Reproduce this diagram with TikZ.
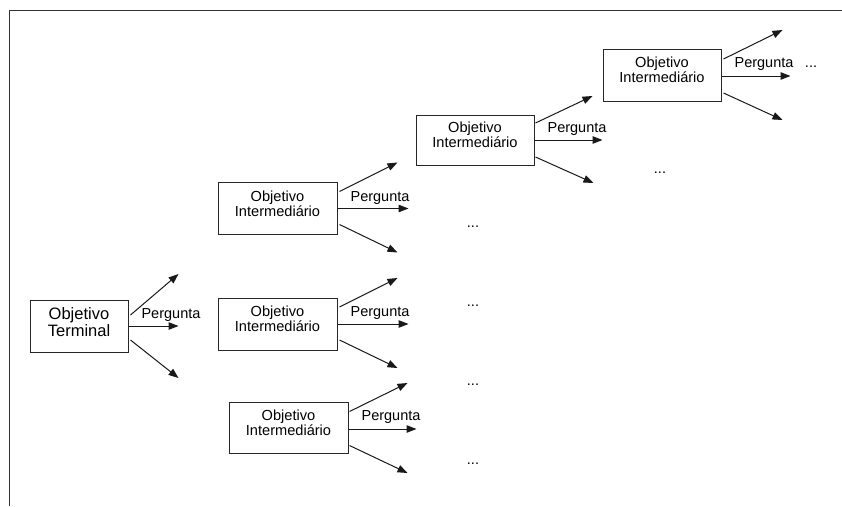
\documentclass[tikz,border=0pt]{standalone}
\usepackage{fontspec}
\setmainfont{Liberation Sans}
\usetikzlibrary{arrows.meta,calc}
\begin{document}
\begin{tikzpicture}[x=1pt,y=-1pt,
 box/.style={draw=black!85,line width=1pt,inner sep=0pt,minimum width=119pt,minimum height=52pt},
 lbl/.style={inner sep=0pt,align=center,font=\fontsize{14.6}{15}\selectfont},
 tlbl/.style={inner sep=0pt,align=center,font=\fontsize{16.5}{17}\selectfont},
 qlbl/.style={inner sep=0pt,anchor=base,font=\fontsize{14.5}{15}\selectfont},
 arr/.style={-{Triangle[length=10pt,width=7.5pt]},line width=1pt,draw=black!90},
 frameline/.style={line width=1.2pt,draw=black!80}]
\useasboundingbox (0,0) rectangle (842,506);
\coordinate (fa) at (842,10.5);
\coordinate (fb) at (9.5,10.5);
\coordinate (fc) at (9.5,506);
\draw[frameline] (fa) -- (fb) -- (fc);

\node[box,minimum width=98pt] (t) at (79,326) {};
\node[tlbl] (tt) at (79,322) {Objetivo\\Terminal};
\node[box] (b1) at (277.5,208.5) {};
\node[lbl] (bt1) at (277.5,203.5) {Objetivo\\Intermediário};
\node[box] (b2) at (277.5,324) {};
\node[lbl] (bt2) at (277.5,319) {Objetivo\\Intermediário};
\node[box,minimum height=51pt] (b3) at (288.5,427.5) {};
\node[lbl] (bt3) at (288.5,422.5) {Objetivo\\Intermediário};
\node[box,minimum width=118pt,minimum height=50pt] (b4) at (475,140) {};
\node[lbl] (bt4) at (475,135) {Objetivo\\Intermediário};
\node[box,minimum width=118pt] (b5) at (662,75) {};
\node[lbl] (bt5) at (662,70) {Objetivo\\Intermediário};

\foreach \n/\usx/\usy/\uex/\uey/\msy/\mex/\lsx/\lsy/\lex/\ley in {
  t/2/-11/50/-52/0/50/2/14/50/52,
  b1/2/-17/60/-46/0/71/2/16/60/44,
  b2/2/-17/60/-46/0/71/2/16/60/44,
  b3/1/-16/59/-44.5/1.5/68/1/18/59/45.5,
  b4/1/-17/58/-44/0/68/1/17/59/43,
  b5/2/-16/61/-45/1/69/2/18/61/45}{
  \coordinate (\n-u) at ($(\n.east)+(\uex,\uey)$);
  \coordinate (\n-m) at ($(\n.east)+(\mex,\msy)$);
  \coordinate (\n-l) at ($(\n.east)+(\lex,\ley)$);
  \draw[arr] ($(\n.east)+(\usx,\usy)$) -- (\n-u);
  \draw[arr] ($(\n.east)+(0,\msy)$) -- (\n-m);
  \draw[arr] ($(\n.east)+(\lsx,\lsy)$) -- (\n-l);
  \node[qlbl] (\n-q) at ($(\n.east)+(42.5,-7.5)$) {Pergunta};
}

\node[qlbl] (d1) at (473,227) {...};
\node[qlbl] (d2) at (473,306) {...};
\node[qlbl] (d3) at (473,385) {...};
\node[qlbl] (d4) at (473,464) {...};
\node[qlbl] (d5) at (660,173) {...};
\node[qlbl] (d6) at (811,67.5) {...};
\end{tikzpicture}
\end{document}
